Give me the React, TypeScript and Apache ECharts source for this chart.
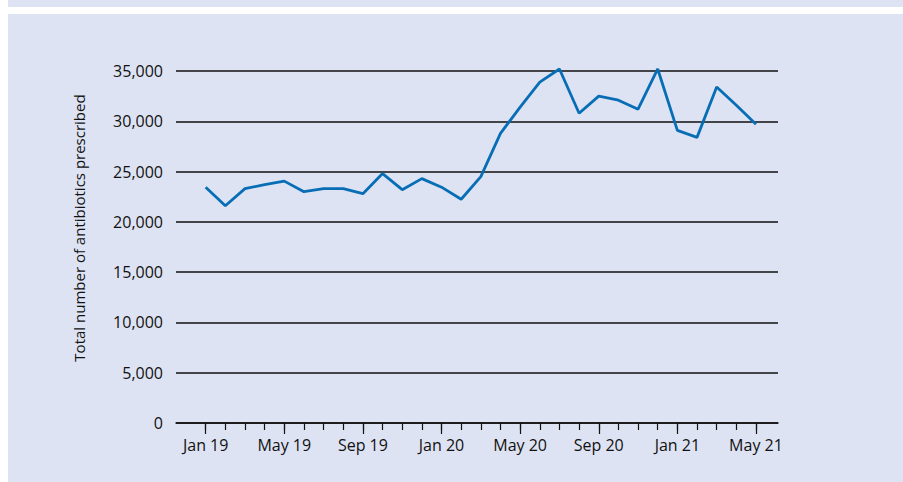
import React, { useEffect, useRef } from "react";
import * as echarts from "echarts";

const monthLabels = [
  "Jan 19", "Feb 19", "Mar 19", "Apr 19", "May 19", "Jun 19", "Jul 19", "Aug 19",
  "Sep 19", "Oct 19", "Nov 19", "Dec 19", "Jan 20", "Feb 20", "Mar 20", "Apr 20",
  "May 20", "Jun 20", "Jul 20", "Aug 20", "Sep 20", "Oct 20", "Nov 20", "Dec 20",
  "Jan 21", "Feb 21", "Mar 21", "Apr 21", "May 21",
];

const prescribed = [
  23450, 21600, 23300, 23700, 24050, 23000, 23300, 23300, 22800, 24800,
  23200, 24300, 23450, 22250, 24500, 28800, 31400, 33900, 35200, 30800,
  32500, 32100, 31200, 35200, 29100, 28400, 33400, 31600, 29700,
];

const majorTickIdx = [0, 4, 8, 12, 16, 20, 24, 28];
const allTickIdx = monthLabels.map((_, i) => i);

const yAxisTitle = "Total number of antibiotics prescribed";

const FONT = "'Open Sans', 'Noto Sans', sans-serif";
const BLUE_BG = "#dee3f3";
const INK = "#111111";

export default function App() {
  const ref = useRef<HTMLDivElement>(null);

  useEffect(() => {
    if (!ref.current) return;
    const chart = echarts.init(ref.current, undefined, { renderer: "svg" });
    const xMin = -1.51;
    const xMax = 29.12;
    chart.setOption({
      animation: false,
      backgroundColor: "#ffffff",
      graphic: [
        { type: "rect", silent: true, z: -10, shape: { x: 8, y: 0, width: 895, height: 7 }, style: { fill: BLUE_BG } },
        { type: "rect", silent: true, z: -10, shape: { x: 8, y: 14, width: 895, height: 468 }, style: { fill: BLUE_BG } },
        {
          type: "text",
          x: 79,
          y: 228,
          rotation: Math.PI / 2,
          style: {
            text: yAxisTitle,
            fill: INK,
            font: `15px ${FONT}`,
            align: "center",
            verticalAlign: "middle",
          },
        },
      ],
      grid: { left: 176, right: 125, top: 71, bottom: 59, containLabel: false },
      xAxis: [
        {
          type: "value",
          min: xMin,
          max: xMax,
          position: "bottom",
          axisLine: { show: true, lineStyle: { color: INK, width: 1.5 } },
          axisTick: {
            show: true,
            customValues: majorTickIdx,
            length: 11,
            lineStyle: { color: INK, width: 1.2 },
          },
          axisLabel: {
            customValues: majorTickIdx,
            formatter: (v: number) => monthLabels[Math.round(v)] ?? "",
            color: INK,
            fontFamily: FONT,
            fontSize: 16,
            margin: 14,
          },
          splitLine: { show: false },
        },
        {
          type: "value",
          min: xMin,
          max: xMax,
          position: "bottom",
          axisLine: { show: false },
          axisTick: {
            show: true,
            customValues: allTickIdx,
            length: 7,
            lineStyle: { color: INK, width: 1.2 },
          },
          axisLabel: { show: false },
          splitLine: { show: false },
        },
      ],
      yAxis: {
        type: "value",
        min: 0,
        max: 35000,
        interval: 5000,
        axisLine: { show: false },
        axisTick: { show: false },
        axisLabel: {
          color: INK,
          fontFamily: FONT,
          fontSize: 16,
          margin: 13,
          formatter: (v: number) => (v === 0 ? "0" : v.toLocaleString("en-US")),
        },
        splitLine: { show: true, lineStyle: { color: INK, width: 1.5 } },
      },
      series: [
        {
          type: "line",
          xAxisIndex: 0,
          data: prescribed.map((v, i) => [i, v]),
          showSymbol: false,
          symbol: "none",
          clip: false,
          lineStyle: { color: "#076eb6", width: 2.8 },
        },
      ],
    });
    return () => chart.dispose();
  }, []);

  return (
    <div
      ref={ref}
      style={{ position: "absolute", left: 0, top: 0, width: 903, height: 482 }}
    />
  );
}
